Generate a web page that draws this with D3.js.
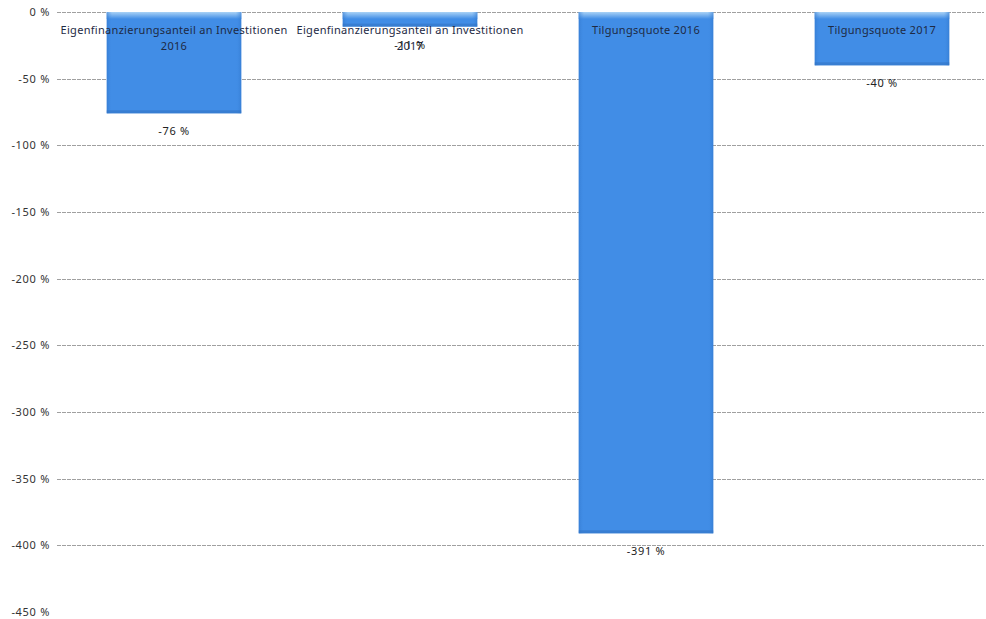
<!DOCTYPE html>
<html>
<head>
<meta charset="utf-8">
<script src="https://cdn.jsdelivr.net/npm/d3@7"></script>
<style>
  html, body { margin: 0; padding: 0; background: #fff; }
  svg { display: block; }
</style>
</head>
<body>
<svg id="chart" width="986" height="619"></svg>
<script>
// Kennzahlen (in %)
const categories = [
  "Eigenfinanzierungsanteil an Investitionen 2016",
  "Eigenfinanzierungsanteil an Investitionen 2017",
  "Tilgungsquote 2016",
  "Tilgungsquote 2017"
];
const labelLines = [
  ["Eigenfinanzierungsanteil an Investitionen", "2016"],
  ["Eigenfinanzierungsanteil an Investitionen", "2017"],
  ["Tilgungsquote 2016"],
  ["Tilgungsquote 2017"]
];
const values = [-76, -11, -391, -40];
const yTicks = [0, -50, -100, -150, -200, -250, -300, -350, -400, -450];

const svg = d3.select("#chart");
const font = "'Noto Sans', 'Open Sans', sans-serif";

const x = d3.scaleBand()
  .domain(categories)
  .range([56, 1000])
  .paddingInner(0.43)
  .paddingOuter(0.215);

const y = d3.scaleLinear()
  .domain([-450, 0])
  .range([612, 12]);

// Balkenverlauf (leichter Glanz oben, dunklere Kanten)
const defs = svg.append("defs");
const grad = defs.append("linearGradient")
  .attr("id", "barFill").attr("x1", 0).attr("x2", 0).attr("y1", 0).attr("y2", 1);
grad.append("stop").attr("offset", "0%").attr("stop-color", "#a9d2f6");
grad.append("stop").attr("offset", "100%").attr("stop-color", "#418de6");

const gradSide = defs.append("linearGradient")
  .attr("id", "barSide").attr("x1", 0).attr("x2", 1).attr("y1", 0).attr("y2", 0);
gradSide.append("stop").attr("offset", "0%").attr("stop-color", "#2f74c8").attr("stop-opacity", 0.55);
gradSide.append("stop").attr("offset", "4%").attr("stop-color", "#418de6").attr("stop-opacity", 0);
gradSide.append("stop").attr("offset", "96%").attr("stop-color", "#418de6").attr("stop-opacity", 0);
gradSide.append("stop").attr("offset", "100%").attr("stop-color", "#2f74c8").attr("stop-opacity", 0.55);

// Gitternetzlinien
svg.append("g")
  .selectAll("line")
  .data(yTicks.filter(t => t > -450))
  .join("line")
  .attr("x1", 57).attr("x2", 984)
  .attr("y1", d => Math.round(y(d)) + 0.5)
  .attr("y2", d => Math.round(y(d)) + 0.5)
  .attr("stroke", "#a0a0a0")
  .attr("stroke-width", 1)
  .attr("stroke-dasharray", "4,1");

// Y-Achsenbeschriftung
svg.append("g")
  .selectAll("text")
  .data(yTicks)
  .join("text")
  .attr("x", 50)
  .attr("y", d => y(d))
  .attr("dy", "0.35em")
  .attr("text-anchor", "end")
  .attr("font-family", font)
  .attr("font-size", 11)
  .attr("letter-spacing", 0.7)
  .attr("fill", "#333")
  .text(d => `${d} %`);

// Balken
const bars = svg.append("g");
categories.forEach((c, i) => {
  const x0 = x(c), bw = x.bandwidth();
  const top = y(0), bottom = y(values[i]);
  const h = bottom - top;
  const g = bars.append("g");
  g.append("rect")
    .attr("x", x0).attr("y", top).attr("width", bw).attr("height", h)
    .attr("fill", "#418de6");
  // Glanzkante oben
  g.append("rect")
    .attr("x", x0).attr("y", top).attr("width", bw).attr("height", Math.min(7, h))
    .attr("fill", "url(#barFill)");
  // dunklere Seitenkanten
  g.append("rect")
    .attr("x", x0).attr("y", top).attr("width", bw).attr("height", h)
    .attr("fill", "url(#barSide)");
  // dunklere Unterkante
  g.append("rect")
    .attr("x", x0).attr("y", bottom - 3).attr("width", bw).attr("height", 3)
    .attr("fill", "#2f6fbd").attr("opacity", 0.5);
});

// Kategoriebeschriftung im Balken
const catG = svg.append("g");
labelLines.forEach((lines, i) => {
  const cx = x(categories[i]) + x.bandwidth() / 2;
  lines.forEach((ln, j) => {
    catG.append("text")
      .attr("x", cx)
      .attr("y", (lines.length === 1 ? 30 : 30 + j * 16))
      .attr("dy", "0.35em")
      .attr("text-anchor", "middle")
      .attr("font-family", font)
      .attr("font-size", 11)
      .attr("letter-spacing", 0.3)
      .attr("fill", "#1e2a44")
      .text(ln);
  });
});

// Wertbeschriftung unter den Balken
svg.append("g")
  .selectAll("text")
  .data(values)
  .join("text")
  .attr("x", (d, i) => x(categories[i]) + x.bandwidth() / 2)
  .attr("y", d => y(d) + 18)
  .attr("dy", "0.35em")
  .attr("text-anchor", "middle")
  .attr("font-family", font)
  .attr("font-size", 11)
  .attr("letter-spacing", 0.7)
  .attr("fill", "#222")
  .text(d => `${d} %`);
</script>
</body>
</html>
